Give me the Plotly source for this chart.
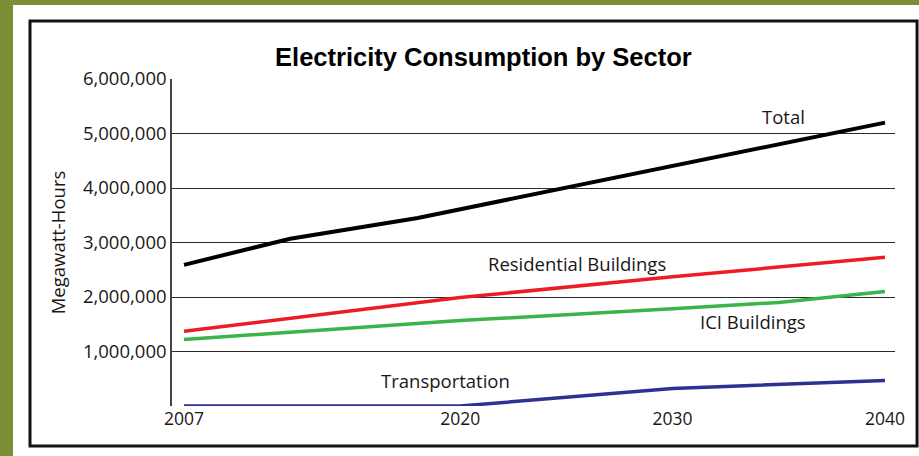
import plotly.graph_objects as go

# ---- data ----
total_years = [2007, 2012, 2018, 2030, 2040]
total_values = [2590000, 3070000, 3450000, 4410000, 5200000]

res_years = [2007, 2020, 2030, 2040]
res_values = [1370000, 1990000, 2370000, 2730000]

ici_years = [2007, 2020, 2030, 2035, 2040]
ici_values = [1220000, 1567000, 1785000, 1900000, 2100000]

trans_years = [2007, 2020, 2030, 2040]
trans_values = [0, 0, 320000, 470000]

x_tick_vals = [2007, 2020, 2030, 2040]
x_tick_text = ["2007", "2020", "2030", "2040"]
y_tick_vals = [0, 1000000, 2000000, 3000000, 4000000, 5000000, 6000000]
y_tick_text = ["", "1,000,000", "2,000,000", "3,000,000", "4,000,000", "5,000,000", "6,000,000"]

series_labels = ["Total", "Residential Buildings", "ICI Buildings", "Transportation"]
label_years = [2035.2, 2025.5, 2033.8, 2019.3]
label_values = [5320000, 2620000, 1547000, 460000]

TXT = "#1A1718"
FONT = "Open Sans"

fig = go.Figure()
fig.add_trace(go.Scatter(x=trans_years, y=trans_values, mode="lines", cliponaxis=False,
                         line=dict(color="#2E3192", width=3.5), name="Transportation"))
fig.add_trace(go.Scatter(x=ici_years, y=ici_values, mode="lines",
                         line=dict(color="#39B54A", width=3.5), name="ICI Buildings"))
fig.add_trace(go.Scatter(x=res_years, y=res_values, mode="lines",
                         line=dict(color="#ED1C24", width=3.5), name="Residential Buildings"))
fig.add_trace(go.Scatter(x=total_years, y=total_values, mode="lines",
                         line=dict(color="#000000", width=4), name="Total"))

for lab, lx, ly in zip(series_labels, label_years, label_values):
    fig.add_annotation(x=lx, y=ly, text=lab, showarrow=False,
                       font=dict(family=FONT, size=18.5, color=TXT),
                       xanchor="center", yanchor="middle")

# background panel and black frame (paper coords)
fig.add_shape(type="rect", xref="paper", yref="paper",
              x0=-0.2199, x1=1.06, y0=-0.2, y1=1.2263,
              fillcolor="white", line=dict(width=0), layer="below")
fig.add_shape(type="rect", xref="paper", yref="paper",
              x0=-0.1964, x1=1.0305, y0=-0.1223, y1=1.1774,
              fillcolor="rgba(0,0,0,0)", line=dict(color="#111111", width=3), layer="below")

fig.update_layout(
    width=919, height=456,
    margin=dict(l=172, r=24, t=79, b=50),
    paper_bgcolor="#7A8F35",
    plot_bgcolor="white",
    showlegend=False,
    title=dict(text="<b>Electricity Consumption by Sector</b>",
               x=0.526, xanchor="center", y=1 - 57 / 456, yanchor="middle",
               yref="container",
               font=dict(family="Liberation Sans", size=25.5, color="#000000")),
    font=dict(family=FONT, color=TXT),
)

fig.update_xaxes(range=[2006.435, 2040.471], tickvals=x_tick_vals, ticktext=x_tick_text,
                 showgrid=False, zeroline=False, showline=False, ticks="",
                 tickfont=dict(family=FONT, size=17.5, color=TXT))
fig.update_yaxes(range=[0, 6000000], tickvals=y_tick_vals, ticktext=y_tick_text,
                 showgrid=True, gridcolor="#2A2A2A", gridwidth=1.2,
                 zeroline=False, showline=True, linecolor="#444444", linewidth=1.5,
                 ticks="", tickfont=dict(family=FONT, size=18.5, color=TXT),
                 title=dict(text="Megawatt-Hours", standoff=12,
                            font=dict(family=FONT, size=18.5, color=TXT)))

fig.write_html("out.html", config={"displayModeBar": False},
               post_script="document.body.style.margin='0';document.body.style.overflow='hidden';")
